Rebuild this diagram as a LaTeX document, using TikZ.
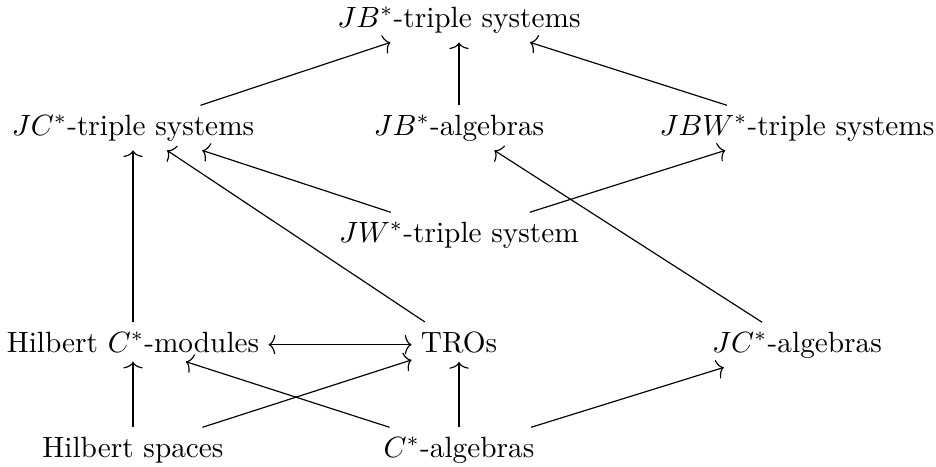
\documentclass[tikz,border=0pt]{standalone}
\usetikzlibrary{cd,arrows.meta}
\begin{document}
\begin{tikzpicture}[x=0.3413pt,y=-0.3413pt,
  obj/.style={shape=asymmetrical rectangle, anchor=base, inner sep=3pt},
  tipx/.tip={Computer Modern Rightarrow[width=6.6pt,length=2.3pt]},
  arr/.style={-tipx, line width=0.4pt},
  darr/.style={tipx-tipx, line width=0.4pt}]
\useasboundingbox (0,0) rectangle (936,466);
\node[obj] (jbt) at (459,27) {$JB^*$-triple systems};
\node[obj] (jct) at (133,135) {$JC^*$-triple systems};
\node[obj] (jba) at (459,135) {$JB^*$-algebras};
\node[obj] (jbw) at (797,135) {$JBW^*$-triple systems};
\node[obj] (jwt) at (459,242) {$JW^*$-triple system};
\node[obj] (hcm) at (133,352) {Hilbert $C^*$-modules};
\node[obj] (tro) at (459,352) {TROs};
\node[obj] (jca) at (797,352) {$JC^*$-algebras};
\node[obj] (hs)  at (133,457) {Hilbert spaces};
\node[obj] (ca)  at (459,457) {$C^*$-algebras};
\draw[arr] (jct) -- (jbt);
\draw[arr] (jba) -- (jbt);
\draw[arr] (jbw) -- (jbt);
\draw[arr] (hcm) -- (jct);
\draw[arr] (tro) -- (jct);
\draw[arr] (jwt) -- (jct);
\draw[arr] (jwt) -- (jbw);
\draw[arr] (jca) -- (jba);
\draw[darr] (hcm) -- (tro);
\draw[arr] (hs) -- (hcm);
\draw[arr] (hs) -- (tro);
\draw[arr] (ca) -- (hcm);
\draw[arr] (ca) -- (tro);
\draw[arr] (ca) -- (jca);
\end{tikzpicture}
\end{document}
